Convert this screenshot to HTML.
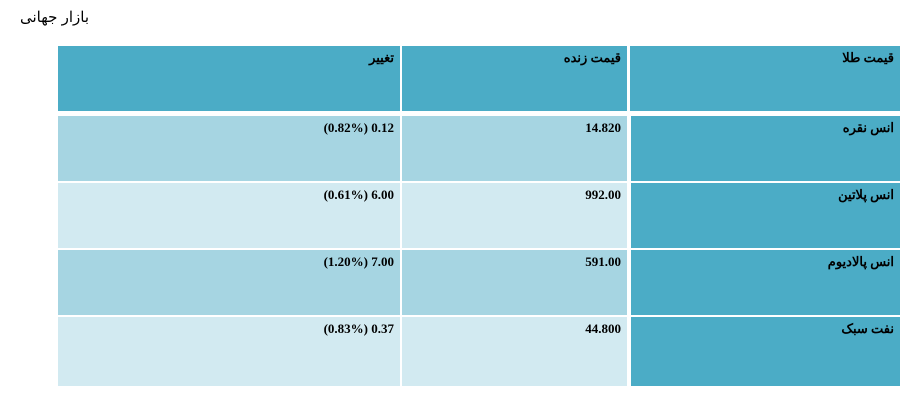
<!DOCTYPE html>
<html><head><meta charset="utf-8"><style>
body{margin:0;width:900px;height:408px;background:#fff;position:relative;overflow:hidden}
.t{position:absolute;left:20px;top:8px;font:15px "Liberation Sans","Noto Sans CJK SC",sans-serif;color:#000;direction:rtl}
.c{position:absolute;box-sizing:border-box;padding:4px 6px;text-align:right;font:bold 13px "Liberation Serif","Noto Serif CJK SC",serif;color:#000}
.h{background:#4BACC6}.a{background:#A6D5E2}.b{background:#D2EAF1}
.fa{direction:rtl}.num{direction:ltr}
</style></head><body>
<div class="t">بازار جهانی</div>
<div>
<div class="c h fa" style="left:58px;top:46px;width:342px;height:65px">تغییر</div>
<div class="c h fa" style="left:402px;top:46px;width:225px;height:65px">قیمت زنده</div>
<div class="c h fa" style="left:630px;top:46px;width:270px;height:65px">قیمت طلا</div>

<div class="c a num" style="left:58px;top:116px;width:342px;height:65px">(0.82%) 0.12</div>
<div class="c a num" style="left:402px;top:116px;width:225px;height:65px">14.820</div>
<div class="c h fa" style="left:631px;top:116px;width:269px;height:65px">انس نقره</div>

<div class="c b num" style="left:58px;top:183px;width:342px;height:65px">(0.61%) 6.00</div>
<div class="c b num" style="left:402px;top:183px;width:225px;height:65px">992.00</div>
<div class="c h fa" style="left:631px;top:183px;width:269px;height:65px">انس پلاتین</div>

<div class="c a num" style="left:58px;top:250px;width:342px;height:65px">(1.20%) 7.00</div>
<div class="c a num" style="left:402px;top:250px;width:225px;height:65px">591.00</div>
<div class="c h fa" style="left:631px;top:250px;width:269px;height:65px">انس پالادیوم</div>

<div class="c b num" style="left:58px;top:317px;width:342px;height:69px">(0.83%) 0.37</div>
<div class="c b num" style="left:402px;top:317px;width:225px;height:69px">44.800</div>
<div class="c h fa" style="left:631px;top:317px;width:269px;height:69px">نفت سبک</div>
</div>
</body></html>
